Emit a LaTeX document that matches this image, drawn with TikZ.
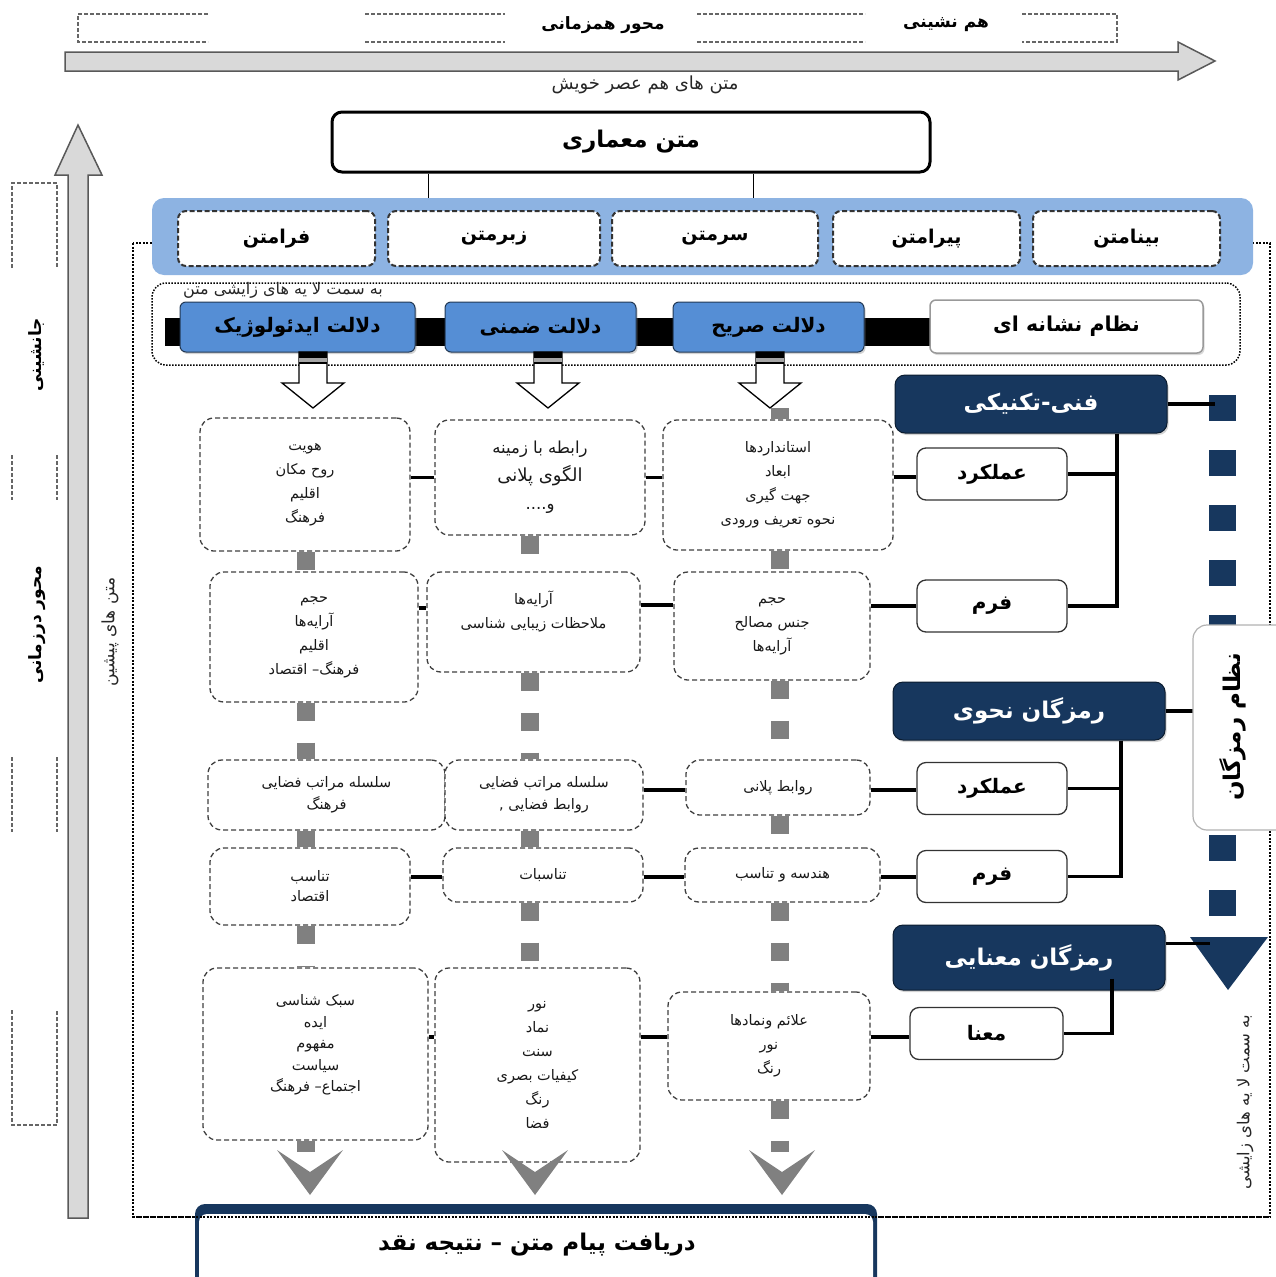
\documentclass[tikz,border=0pt]{standalone}
\usepackage{fontspec}
\usetikzlibrary{shadows}
\newfontfamily\fa[Script=Arabic]{DejaVu Sans}
\TeXXeTstate=1
\newcommand\fr[1]{\beginR#1\endR}
\definecolor{bandblue}{HTML}{8DB3E2}
\definecolor{dalblue}{HTML}{558ED5}
\definecolor{navy}{HTML}{17375E}
\definecolor{arrgray}{HTML}{D9D9D9}
\definecolor{sqgray}{HTML}{808080}
\begin{document}
\begin{tikzpicture}[x=1pt,y=-1pt,
  lbl/.style={font=\fa\bfseries\fontsize{19}{24}\selectfont, inner sep=0pt},
  txt/.style={font=\fa\fontsize{14.5}{24}\selectfont, inner sep=0pt, text=black!85},
  dbox/.style={draw=black!75, dash pattern=on 5pt off 3pt, line width=1.3pt, rounded corners=14pt, fill=white, align=center, inner sep=0pt, text=black!90, font=\fa\fontsize{14.5}{24}\selectfont},
  tbox/.style={draw=black!80, dash pattern=on 5pt off 2.5pt, line width=2pt, rounded corners=8pt, fill=white, inner sep=0pt, font=\fa\bfseries\fontsize{19}{24}\selectfont},
  dalbox/.style={draw=black!60!dalblue, line width=1pt, rounded corners=6pt, fill=dalblue, inner sep=0pt, font=\fa\bfseries\fontsize{20}{24}\selectfont, drop shadow={shadow xshift=1.5pt,shadow yshift=-2pt,opacity=.35}},
  navybox/.style={draw=black!50!navy, line width=1pt, fill=navy, text=white, rounded corners=10pt, inner sep=0pt, font=\fa\bfseries\fontsize{23}{26}\selectfont, drop shadow={shadow xshift=1.5pt,shadow yshift=-2pt,opacity=.35}},
  wbox/.style={draw=black!80, line width=1.3pt, rounded corners=9pt, fill=white, inner sep=0pt, font=\fa\bfseries\fontsize{20}{24}\selectfont, minimum width=150pt, minimum height=52pt},
  conn/.style={line width=3.5pt},
  thinl/.style={line width=1pt},
  graydash/.style={draw=sqgray, line width=18pt, dash pattern=on 18pt off 22pt},
  navydash/.style={draw=navy, line width=27pt, dash pattern=on 26pt off 29pt},
  axisarrow/.style={fill=arrgray, draw=black!65, line width=1.5pt},
  axdash/.style={draw=black!60, dash pattern=on 4pt off 2pt, line width=1.2pt},
  frame/.style={draw=black, dash pattern=on 2pt off 1.5pt, line width=2pt},
]
\useasboundingbox (0,0) rectangle (1276,1277);
\clip (0,0) rectangle (1276,1277);

% ---------- top axis
\draw[axdash] (208,14) -- (78,14) -- (78,42) -- (208,42);
\draw[axdash] (365,14) -- (505,14);
\draw[axdash] (365,42) -- (505,42);
\draw[axdash] (697,14) -- (865,14);
\draw[axdash] (697,42) -- (865,42);
\draw[axdash] (1022,14) -- (1117,14) -- (1117,42) -- (1022,42);
\node[lbl, font=\fa\bfseries\fontsize{17}{20}\selectfont] (sync) at (603,25) {\fr{محور همزمانی}};
\node[lbl, font=\fa\bfseries\fontsize{17}{20}\selectfont] (hamn) at (946,25) {\fr{هم نشینی}};
\draw[axisarrow] (65,52) -- (1178,52) -- (1178,42) -- (1215,61) -- (1178,80) -- (1178,71) -- (65,71) -- cycle;
\node[txt, font=\fa\fontsize{18}{20}\selectfont] (cont) at (645,85) {\fr{متن های هم عصر خویش}};

% ---------- left axis
\draw[axdash] (12,268) -- (12,183) -- (57,183) -- (57,268);
\draw[axdash] (12,455) -- (12,500);
\draw[axdash] (57,455) -- (57,500);
\draw[axdash] (12,757) -- (12,832);
\draw[axdash] (57,757) -- (57,832);
\draw[axdash] (12,1010) -- (12,1125) -- (57,1125) -- (57,1010);
\node[lbl, rotate=90, font=\fa\bfseries\fontsize{17}{20}\selectfont] (jan) at (37,355) {\fr{جانشینی}};
\node[lbl, rotate=90, font=\fa\bfseries\fontsize{17}{20}\selectfont] (dia) at (37,625) {\fr{محور درزمانی}};
\draw[axisarrow] (68,1218) -- (68,175) -- (55,175) -- (78,125) -- (102,175) -- (88,175) -- (88,1218) -- cycle;
\node[txt, rotate=90, font=\fa\fontsize{17}{20}\selectfont] (pish) at (110,632) {\fr{متن های پیشین}};

% ---------- main frame
\draw[frame] (133,243) rectangle (1270,1217);

% ---------- architecture text
\node[draw, line width=3pt, rounded corners=10pt, fill=white, minimum width=598pt, minimum height=60pt, inner sep=0pt, font=\fa\bfseries\fontsize{23}{26}\selectfont] (mm) at (631,142) {\fr{متن معماری}};
\node[fill=bandblue, rounded corners=12pt, minimum width=1101pt, minimum height=77pt, inner sep=0pt] (band) at (702.5,236.5) {};
\draw[thinl] ([xshift=-203pt]mm.south) -- ([xshift=-203pt]mm.south |- band.north);
\draw[thinl] ([xshift=122pt]mm.south) -- ([xshift=122pt]mm.south |- band.north);

\node[tbox, minimum width=197pt, minimum height=55pt] (fara) at (276.5,238.5) {\fr{فرامتن}};
\node[tbox, minimum width=212pt, minimum height=55pt] (zebr) at (494,238.5) {\fr{زبرمتن}};
\node[tbox, minimum width=206pt, minimum height=55pt] (sarm) at (715,238.5) {\fr{سرمتن}};
\node[tbox, minimum width=187pt, minimum height=55pt] (piram) at (926.5,238.5) {\fr{پیرامتن}};
\node[tbox, minimum width=187pt, minimum height=55pt] (bina) at (1126.5,238.5) {\fr{بینامتن}};

% ---------- signification layer
\node[draw, dash pattern=on 1.5pt off 1.5pt, line width=1.5pt, rounded corners=14pt, minimum width=1088pt, minimum height=82pt, inner sep=0pt] (dal) at (696,324) {};
\node[txt, font=\fa\fontsize{16}{18}\selectfont] (zay) at (283,290) {\fr{به سمت لا یه های زایشی متن}};
\fill (165,318) rectangle (935,346);
\node[dalbox, minimum width=235pt, minimum height=50pt] (ideo) at (297.5,327) {\fr{دلالت ایدئولوژیک}};
\node[dalbox, minimum width=191pt, minimum height=50pt] (zemn) at (540.5,327) {\fr{دلالت ضمنی}};
\node[dalbox, minimum width=191pt, minimum height=50pt] (sari) at (768.5,327) {\fr{دلالت صریح}};
\node[draw=black!40, line width=1.5pt, fill=white, rounded corners=6pt, minimum width=273pt, minimum height=53pt, inner sep=0pt, font=\fa\bfseries\fontsize{20.5}{24}\selectfont, drop shadow={shadow xshift=1.5pt,shadow yshift=-2pt,opacity=.3}] (neshane) at (1066.5,326.5) {\fr{نظام نشانه ای}};

% hollow arrows
\foreach \x in {313,548,770}{
  \draw[line width=1.3pt, fill=white] ({\x-14},352) -- ({\x-14},383) -- ({\x-31},383) -- (\x,408) -- ({\x+31},383) -- ({\x+14},383) -- ({\x+14},352) -- cycle;
  \fill[black] ({\x-14},352) rectangle ({\x+14},358);
  \fill[gray!70] ({\x-14},358) rectangle ({\x+14},362);
  \fill[black] ({\x-14},362) rectangle ({\x+14},364);
}

% ---------- content boxes
\node[dbox, minimum width=210pt, minimum height=133pt] (c1r1) at (305,484.5) {\fr{هویت}\\\fr{روح مکان}\\\fr{اقلیم}\\\fr{فرهنگ}};
\node[dbox, minimum width=210pt, minimum height=115pt, font=\fa\fontsize{16.5}{28}\selectfont] (c2r1) at (540,477.5) {\fr{رابطه  با زمینه}\\\fr{\fontsize{18}{28}\selectfont الگوی پلانی}\\\fr{و....}};
\node[dbox, minimum width=230pt, minimum height=130pt] (c3r1) at (778,485) {\fr{استانداردها}\\\fr{ابعاد}\\\fr{جهت گیری}\\\fr{نحوه تعریف ورودی}};

\node[dbox, minimum width=208pt, minimum height=130pt] (c1r2) at (314,637) {\fr{حجم}\\\fr{آرایه^^^^200cها}\\\fr{اقلیم}\\\fr{فرهنگ– اقتصاد}};
\node[dbox, minimum width=213pt, minimum height=100pt] (c2r2) at (533.5,622) {\fr{آرایه^^^^200cها}\\\fr{ملاحظات زیبایی شناسی}\\\mbox{}};
\node[dbox, minimum width=196pt, minimum height=108pt] (c3r2) at (772,626) {\fr{حجم}\\\fr{جنس مصالح}\\\fr{آرایه^^^^200cها}};

\node[dbox, minimum width=237pt, minimum height=70pt, font=\fa\fontsize{14.5}{22}\selectfont] (c1r3) at (326.5,795) {\fr{سلسله مراتب فضایی}\\\fr{فرهنگ}};
\node[dbox, minimum width=198pt, minimum height=70pt, font=\fa\fontsize{14.5}{22}\selectfont] (c2r3) at (544,795) {\fr{سلسله مراتب فضایی}\\\fr{روابط فضایی ,}};
\node[dbox, minimum width=184pt, minimum height=55pt] (c3r3) at (778,787.5) {\fr{روابط پلانی}};

\node[dbox, minimum width=200pt, minimum height=77pt, font=\fa\fontsize{14.5}{20}\selectfont] (c1r4) at (310,886.5) {\fr{تناسب}\\\fr{اقتصاد}};
\node[dbox, minimum width=200pt, minimum height=54pt] (c2r4) at (543,875) {\fr{تناسبات}};
\node[dbox, minimum width=195pt, minimum height=54pt] (c3r4) at (782.5,875) {\fr{هندسه و تناسب}};

\node[dbox, minimum width=225pt, minimum height=172pt, font=\fa\fontsize{14.5}{21.5}\selectfont] (c1r5) at (315.5,1054) {\fr{سبک شناسی}\\\fr{ایده}\\\fr{مفهوم}\\\fr{سیاست}\\\fr{اجتماع– فرهنگ}\\\mbox{}};
\node[dbox, minimum width=205pt, minimum height=194pt] (c2r5) at (537.5,1065) {\fr{نور}\\\fr{نماد}\\\fr{سنت}\\\fr{کیفیات بصری}\\\fr{رنگ}\\\fr{فضا}};
\node[dbox, minimum width=202pt, minimum height=108pt] (c3r5) at (769,1046) {\fr{علائم ونمادها}\\\fr{نور}\\\fr{رنگ}};

% ---------- gray vertical links
\coordinate (k1) at (306,0);
\coordinate (k2) at (530,0);
\coordinate (k3) at (780,0);
\coordinate (a3) at (780,408);
\coordinate (v1) at (306,1152);
\coordinate (v3) at (780,1152);
\draw[graydash] (k1 |- c1r1.south) -- (k1 |- c1r2.north);
\draw[graydash] (k1 |- c1r2.south) -- (k1 |- c1r3.north);
\draw[graydash] (k1 |- c1r3.south) -- (k1 |- c1r4.north);
\draw[graydash] (k1 |- c1r4.south) -- (k1 |- c1r5.north);
\draw[graydash] (k1 |- c1r5.south) -- (v1);
\draw[graydash] (k2 |- c2r1.south) -- (k2 |- c2r2.north);
\draw[graydash] (k2 |- c2r2.south) -- (k2 |- c2r3.north);
\draw[graydash] (k2 |- c2r3.south) -- (k2 |- c2r4.north);
\draw[graydash] (k2 |- c2r4.south) -- (k2 |- c2r5.north);
\draw[graydash] (a3) -- (k3 |- c3r1.north);
\draw[graydash] (k3 |- c3r1.south) -- (k3 |- c3r2.north);
\draw[graydash] (k3 |- c3r2.south) -- (k3 |- c3r3.north);
\draw[graydash] (k3 |- c3r3.south) -- (k3 |- c3r4.north);
\draw[graydash] (k3 |- c3r4.south) -- (k3 |- c3r5.north);
\draw[graydash] (k3 |- c3r5.south) -- (v3);
% chevrons
\foreach \x in {310,535,782}
  \fill[sqgray] ({\x-33},1150) -- (\x,1172) -- ({\x+33},1150) -- (\x,1195) -- cycle;

% ---------- right side code boxes
\node[navybox, minimum width=272pt, minimum height=58pt] (fanni) at (1031,404) {\fr{فنی-تکنیکی}};
\node[navybox, minimum width=272pt, minimum height=58pt] (nahvi) at (1029,711) {\fr{رمزگان نحوی}};
\node[navybox, minimum width=272pt, minimum height=65pt] (manaei) at (1029,957.5) {\fr{رمزگان معنایی}};
\node[wbox] (amal1) at (992,474) {\fr{عملکرد}};
\node[wbox] (form1) at (992,606) {\fr{فرم}};
\node[wbox] (amal2) at (992,788.5) {\fr{عملکرد}};
\node[wbox] (form2) at (992,876.5) {\fr{فرم}};
\node[wbox, minimum width=153pt] (mana) at (986.5,1033.5) {\fr{معنا}};

% horizontal black links
\draw[conn] (c1r1.east |- c2r1.west) -- (c2r1.west);
\draw[conn] (c2r1.east) -- (c2r1.east -| c3r1.west);
\draw[conn] (c3r1.east |- 0,477) -- (amal1.west |- 0,477);
\draw[conn] (c1r2.east |- 0,608) -- (c2r2.west |- 0,608);
\draw[conn] (c2r2.east |- 0,605) -- (c3r2.west |- 0,605);
\draw[conn] (c3r2.east |- form1.west) -- (form1.west);
\draw[conn] (c2r3.east |- 0,790) -- (c3r3.west |- 0,790);
\draw[conn] (c3r3.east |- 0,790) -- (amal2.west |- 0,790);
\draw[conn] (c1r4.east |- 0,877) -- (c2r4.west |- 0,877);
\draw[conn] (c2r4.east |- 0,877) -- (c3r4.west |- 0,877);
\draw[conn] (c3r4.east |- 0,877) -- (form2.west |- 0,877);
\draw[conn] (c1r5.east |- 0,1037) -- (c2r5.west |- 0,1037);
\draw[conn] (c2r5.east |- 0,1037) -- (c3r5.west |- 0,1037);
\draw[conn] (c3r5.east |- 0,1037) -- (mana.west |- 0,1037);

% tree links
\draw[conn] ([xshift=86pt]fanni.south) |- (amal1.east);
\draw[conn] ([xshift=86pt]fanni.south) |- (form1.east);
\draw[conn] ([xshift=92pt]nahvi.south) |- (amal2.east);
\draw[conn] ([xshift=92pt]nahvi.south) |- (form2.east);
\draw[conn] ([xshift=83pt,yshift=12pt]manaei.south) |- (mana.east);

% ---------- code system arrow
\coordinate (nt) at (1222,395);
\coordinate (nb) at (1222,937);
\coordinate (nx1) at (1215,0);
\coordinate (nx2) at (1193,0);
\coordinate (nx3) at (1210,0);
\draw[navydash] (nt) -- (nb);
\fill[navy] (1190,937) -- (1268,937) -- (1228,990) -- cycle;
\draw[conn] (fanni.east) -- (fanni.east -| nx1);
\draw[conn] (nahvi.east) -- (nahvi.east -| nx2);
\draw[conn] ([yshift=14pt]manaei.east) -- ([yshift=14pt]manaei.east -| nx3);
\node[draw=black!30, line width=1.2pt, fill=white, rounded corners=14pt, minimum width=110pt, minimum height=205pt, inner sep=0pt] (nzbox) at (1248,727.5) {};
\node[lbl, rotate=90, font=\fa\bfseries\fontsize{23}{26}\selectfont] (nzr) at (1233,727) {\fr{نظام رمزگان}};
\node[txt, rotate=90, font=\fa\fontsize{16.5}{20}\selectfont] (zay2) at (1245,1102) {\fr{به سمت لا یه های زایشی}};

% ---------- result box
\fill[navy, rounded corners=10pt] (195,1204) rectangle (877,1295);
\fill[white, rounded corners=8pt] (199,1214) rectangle (873,1295);
\draw[frame] (133,1217) -- (1270,1217);
\node[lbl, font=\fa\bfseries\fontsize{23}{26}\selectfont] (res) at (537,1245) {\fr{دریافت پیام متن  – نتیجه نقد}};
\end{tikzpicture}
\end{document}
